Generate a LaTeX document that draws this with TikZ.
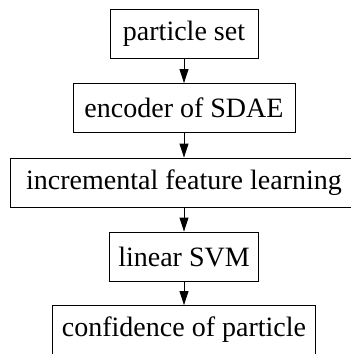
\documentclass[tikz,border=0pt]{standalone}
\usepackage{fontspec}
\setmainfont{Liberation Serif}
\newfontfamily\boxfont{Liberation Serif}
\usetikzlibrary{arrows.meta}
\begin{document}
\begin{tikzpicture}[x=1pt,y=1pt,
  stage/.style={draw, line width=0.9pt, minimum height=49pt, inner xsep=0pt,
                font=\boxfont\fontsize{28}{30}\selectfont, anchor=center},
  flow/.style={line width=0.9pt, -{Triangle[length=14pt,width=9pt]}}]
  \useasboundingbox (0,0) rectangle (351,-354);
  \clip (0,0) rectangle (351,-354);
  \node[stage, minimum width=148pt] (ps)  at (184,-33.5) {particle set};
  \node[stage, minimum width=222pt] (enc) at (184,-108)  {encoder of SDAE};
  \node[stage, minimum width=348pt] (inc) at (184,-182.5) {incremental feature learning};
  \node[stage, minimum width=149pt] (svm) at (184,-256.5) {linear SVM};
  \node[stage, minimum width=263pt] (conf) at (184,-330) {confidence of particle};
  \draw[flow] (ps) -- (enc);
  \draw[flow] (enc) -- (inc);
  \draw[flow] (inc) -- (svm);
  \draw[flow] (svm) -- (conf);
\end{tikzpicture}
\end{document}
